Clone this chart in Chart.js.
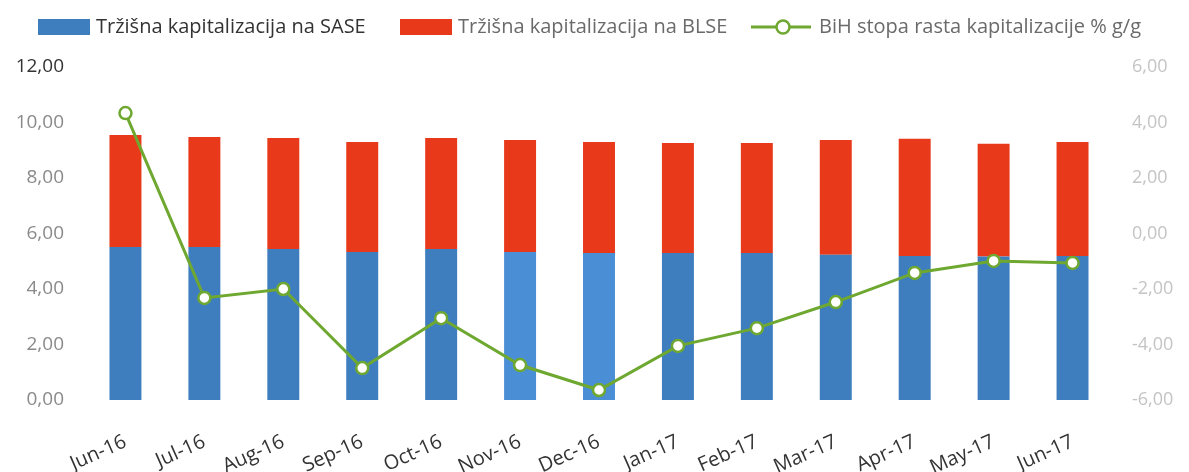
<!DOCTYPE html>
<html>
<head>
<meta charset="utf-8">
<script src="https://cdn.jsdelivr.net/npm/chart.js@4/dist/chart.umd.min.js"></script>
<style>
  html, body { margin: 0; padding: 0; background: #ffffff; }
  #wrap { width: 1189px; height: 472px; position: relative; }
</style>
</head>
<body>
<div id="wrap"><canvas id="c"></canvas></div>
<script>
const categories = ['Jun-16','Jul-16','Aug-16','Sep-16','Oct-16','Nov-16','Dec-16','Jan-17','Feb-17','Mar-17','Apr-17','May-17','Jun-17'];
const sase = [5.51, 5.51, 5.44, 5.33, 5.44, 5.33, 5.30, 5.30, 5.30, 5.23, 5.19, 5.17, 5.19];
const blse = [4.04, 3.97, 4.00, 3.97, 4.00, 4.04, 4.00, 3.96, 3.96, 4.14, 4.22, 4.06, 4.11];
const growth = [4.34, -2.32, -2.00, -4.85, -3.05, -4.74, -5.64, -4.05, -3.41, -2.47, -1.42, -0.99, -1.06];
const leftTicks = ['0,00','2,00','4,00','6,00','8,00','10,00','12,00'];
const rightTicks = ['-6,00','-4,00','-2,00','0,00','2,00','4,00','6,00'];
const seriesNames = ['Tržišna kapitalizacija na SASE', 'Tržišna kapitalizacija na BLSE', 'BiH stopa rasta kapitalizacije % g/g'];

const BLUE = '#3e7ebf';
const RED = '#e8391b';
const GREEN = '#6fa830';
const FONT = '"Open Sans", Lato, sans-serif';

const bgPlugin = {
  id: 'bg',
  beforeDraw(chart) {
    const ctx = chart.ctx;
    ctx.save();
    ctx.fillStyle = '#ffffff';
    ctx.fillRect(0, 0, chart.width, chart.height);
    ctx.restore();
  }
};

const legendPlugin = {
  id: 'customLegend',
  afterDraw(chart) {
    const ctx = chart.ctx;
    const starts = [38, 400, 751];
    const cy = 27;
    ctx.save();
    ctx.font = '20px ' + FONT;
    ctx.textBaseline = 'middle';
    ctx.textAlign = 'left';
    chart.data.datasets.forEach((ds, i) => {
      const x = starts[i];
      if (ds.type === 'line') {
        ctx.strokeStyle = ds.borderColor;
        ctx.lineWidth = 3;
        ctx.beginPath();
        ctx.moveTo(x, cy);
        ctx.lineTo(x + 60, cy);
        ctx.stroke();
        ctx.beginPath();
        ctx.arc(x + 32, cy, 6.5, 0, Math.PI * 2);
        ctx.fillStyle = '#ffffff';
        ctx.fill();
        ctx.lineWidth = 2.5;
        ctx.stroke();
        ctx.fillStyle = '#6a6a6a';
        ctx.fillText(ds.label, x + 68, cy);
      } else {
        ctx.fillStyle = ds.legendColor;
        ctx.fillRect(x, cy - 8, 52, 16);
        ctx.fillStyle = i === 0 ? '#333333' : '#6a6a6a';
        ctx.fillText(ds.label, x + 58, cy);
      }
    });
    ctx.restore();
  }
};

const blueColors = categories.map((c, i) => (i === 5 || i === 6) ? '#4a8ed6' : BLUE);

new Chart(document.getElementById('c'), {
  type: 'bar',
  data: {
    labels: categories,
    datasets: [
      {
        type: 'bar',
        label: seriesNames[0],
        data: sase,
        backgroundColor: blueColors,
        legendColor: BLUE,
        stack: 's',
        yAxisID: 'y',
        order: 1,
        barPercentage: 0.405,
        categoryPercentage: 1.0
      },
      {
        type: 'bar',
        label: seriesNames[1],
        data: blse,
        backgroundColor: RED,
        legendColor: RED,
        stack: 's',
        yAxisID: 'y',
        order: 1,
        barPercentage: 0.405,
        categoryPercentage: 1.0
      },
      {
        type: 'line',
        label: seriesNames[2],
        data: growth,
        borderColor: GREEN,
        borderWidth: 3,
        backgroundColor: '#ffffff',
        pointBackgroundColor: '#ffffff',
        pointBorderColor: GREEN,
        pointBorderWidth: 2.5,
        pointRadius: 6,
        tension: 0,
        yAxisID: 'y1',
        order: 0
      }
    ]
  },
  options: {
    responsive: true,
    maintainAspectRatio: false,
    animation: false,
    layout: { padding: { top: 67, left: 0, right: 0, bottom: 0 } },
    plugins: {
      legend: { display: false },
      tooltip: { enabled: false }
    },
    scales: {
      x: {
        stacked: true,
        grid: { display: false, drawTicks: false },
        border: { display: false },
        ticks: {
          autoSkip: false,
          minRotation: 24,
          maxRotation: 24,
          padding: 30,
          color: '#333333',
          font: { family: FONT, size: 20 }
        },
        afterFit(scale) { scale.height = 72; }
      },
      y: {
        type: 'linear',
        position: 'left',
        stacked: true,
        min: 0,
        max: 12,
        grid: { display: false, drawTicks: false },
        border: { display: false },
        ticks: {
          stepSize: 2,
          padding: 22,
          color: (ctx) => ctx.index === 6 ? '#333333' : '#8a8a8a',
          font: { family: FONT, size: 19 },
          callback: (v, i) => leftTicks[i]
        },
        afterFit(scale) { scale.width = 86; }
      },
      y1: {
        type: 'linear',
        position: 'right',
        min: -6,
        max: 6,
        grid: { display: false, drawTicks: false },
        border: { display: false },
        ticks: {
          stepSize: 2,
          padding: 20,
          color: '#c4c4c4',
          font: { family: FONT, size: 18 },
          callback: (v, i) => rightTicks[i]
        },
        afterFit(scale) { scale.width = 77; }
      }
    }
  },
  plugins: [bgPlugin, legendPlugin]
});
</script>
</body>
</html>
